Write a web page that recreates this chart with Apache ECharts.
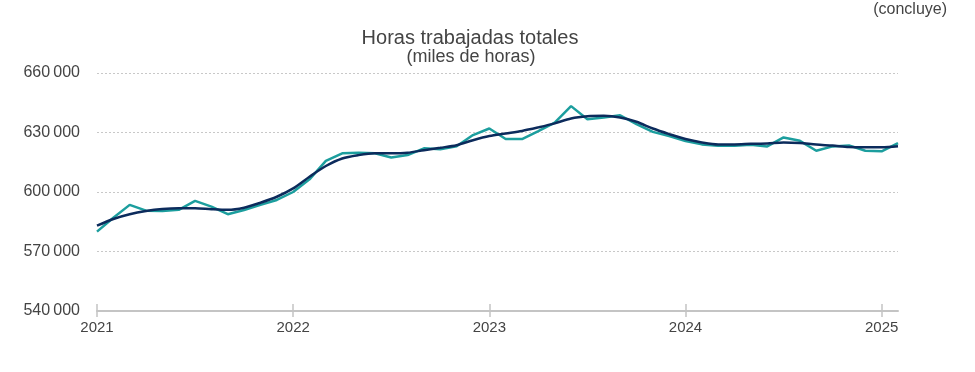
<!DOCTYPE html>
<html><head><meta charset="utf-8">
<script src="https://cdn.jsdelivr.net/npm/echarts@6/dist/echarts.min.js"></script>
<style>html,body{margin:0;padding:0;background:#fff}#c{width:975px;height:372px}</style>
</head><body><div id="c"></div>
<script>
const startYear = 2021;
const yearTicks = ['2021','2022','2023','2024','2025'];
const yTicks = [540000, 570000, 600000, 630000, 660000];
const observed = [580000,587000,593500,590600,590400,591000,595500,592600,588800,590900,593500,596000,
  600000,606400,615700,619500,619800,619500,617400,618600,622000,621600,623100,628700,
  632000,626700,626700,630700,635000,643300,636700,637600,638700,634200,630300,628200,
  625700,624000,623300,623300,623800,623000,627500,625800,620800,623000,623500,620800,
  620500,624600];
const trend = [583000,586400,588800,590400,591400,591800,591800,591300,591000,592100,594600,597600,
  601800,607700,613100,616900,618600,619500,619500,619800,621100,622300,623600,626100,
  628200,629500,630800,632600,634600,637100,638200,638400,637600,635400,632000,629200,
  626700,625000,624000,624000,624300,624500,625000,624700,623900,623400,622700,622600,
  622600,623100];
const months = observed.map((_, i) => (startYear + Math.floor(i / 12)) + '-' + String(i % 12 + 1).padStart(2, '0'));
const isYearStart = (idx) => idx % 12 === 0;
const fmt = v => String(v).replace(/\B(?=(\d{3})+(?!\d))/g, '\u2009');
const chart = echarts.init(document.getElementById('c'));
const font = 'Liberation Sans, Arial, sans-serif';
const baseX = {
  type: 'category', data: months, boundaryGap: false, splitLine: {show: false}
};
chart.setOption({
  animation: false,
  textStyle: {fontFamily: font},
  title: [
    {text: 'Horas trabajadas totales', left: 465, top: 23, textAlign: 'center',
     textStyle: {fontSize: 20, fontWeight: 'normal', color: '#444', fontFamily: font}},
    {text: '(miles de horas)', left: 466, top: 43, textAlign: 'center',
     textStyle: {fontSize: 18, fontWeight: 'normal', color: '#444', fontFamily: font}},
    {text: '(concluye)', right: 23, top: -3,
     textStyle: {fontSize: 16, fontWeight: 'normal', color: '#444', fontFamily: font}}
  ],
  grid: {left: 97, right: 77, top: 73, bottom: 61},
  xAxis: [Object.assign({}, baseX, {
    axisLine: {show: true, lineStyle: {color: '#c4c4c4', width: 2}},
    axisTick: {show: true, length: 6, interval: isYearStart, lineStyle: {color: '#c4c4c4', width: 1.5}},
    axisLabel: {fontSize: 15, color: '#444', margin: 9, fontFamily: font, interval: isYearStart,
      formatter: v => v.slice(0, 4)}
  }), Object.assign({}, baseX, {
    position: 'bottom',
    axisLine: {show: false},
    axisTick: {show: true, inside: true, length: 7, interval: isYearStart, lineStyle: {color: '#c4c4c4', width: 1.5}},
    axisLabel: {show: false}
  })],
  yAxis: {
    type: 'value', min: yTicks[0], max: yTicks[yTicks.length - 1], interval: 30000,
    axisLine: {show: false}, axisTick: {show: false},
    axisLabel: {fontSize: 16, color: '#444', margin: 17, fontFamily: font, formatter: fmt},
    splitLine: {lineStyle: {color: '#c8c8c8', type: [2, 2], width: 1}}
  },
  series: [
    {type: 'line', name: 'observed', data: observed, symbol: 'none',
     lineStyle: {color: '#1c9e9e', width: 2.5}, z: 2},
    {type: 'line', name: 'trend', data: trend, symbol: 'none', smooth: 0.3,
     lineStyle: {color: '#0c2b5c', width: 2.5}, z: 3}
  ]
});
</script></body></html>
